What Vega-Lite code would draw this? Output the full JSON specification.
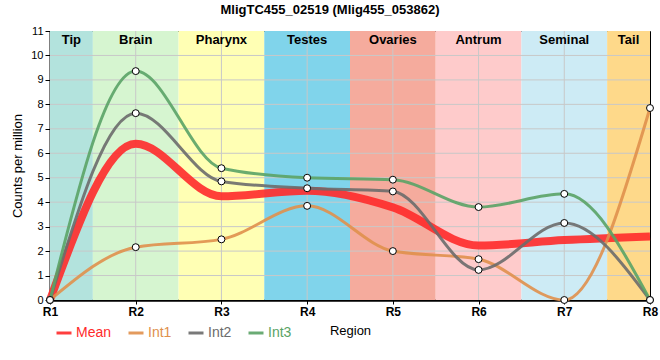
{
  "$schema": "https://vega.github.io/schema/vega-lite/v6.json",
  "width": 600,
  "height": 269,
  "autosize": {"type": "none"},
  "padding": {"left": 50, "top": 31, "right": 10, "bottom": 60},
  "title": {"text": "MligTC455_02519 (Mlig455_053862)", "font": "Liberation Sans", "fontSize": 13, "fontWeight": "bold", "color": "#000000", "anchor": "middle", "dx": -20, "offset": 8},
  "config": {"view": {"stroke": "#000000", "strokeWidth": 1}, "font": "Liberation Sans",
    "axisY": {"labelOverlap": false, "labelFlush": false, "labelBound": false, "grid": false, "titleFontWeight": "normal", "titleFontSize": 13, "titleColor": "#000000", "titlePadding": 6, "labelFontSize": 11, "labelColor": "#000000", "domainColor": "#000000", "domainWidth": 2, "tickColor": "#000000", "tickSize": 5, "labelPadding": 2},
    "axisX": {"labelExpr": "'R' + datum.value", "labelFlush": false, "labelOverlap": false, "grid": false, "titleFontWeight": "normal", "titleFontSize": 13, "titleColor": "#000000", "titlePadding": 7, "labelFontWeight": "bold", "labelFontSize": 12, "labelColor": "#000000", "domainColor": "#000000", "domainWidth": 2.5, "tickColor": "#000000", "tickSize": 4, "labelPadding": 2}},
  "datasets": {
    "bands": [
      {"name": "Tip", "start": 1, "end": 1.5},
      {"name": "Brain", "start": 1.5, "end": 2.5},
      {"name": "Pharynx", "start": 2.5, "end": 3.5},
      {"name": "Testes", "start": 3.5, "end": 4.5},
      {"name": "Ovaries", "start": 4.5, "end": 5.5},
      {"name": "Antrum", "start": 5.5, "end": 6.5},
      {"name": "Seminal", "start": 6.5, "end": 7.5},
      {"name": "Tail", "start": 7.5, "end": 8}
    ],
    "ygrid": [{"v": 1}, {"v": 2}, {"v": 3}, {"v": 4}, {"v": 5}, {"v": 6}, {"v": 7}, {"v": 8}, {"v": 9}, {"v": 10}],
    "xgrid": [{"v": 2}, {"v": 3}, {"v": 4}, {"v": 5}, {"v": 6}, {"v": 7}],
    "series": [
      {"series": "Mean", "x": 1, "value": 0},
      {"series": "Mean", "x": 2, "value": 6.39},
      {"series": "Mean", "x": 3, "value": 4.24},
      {"series": "Mean", "x": 4, "value": 4.47},
      {"series": "Mean", "x": 5, "value": 3.79},
      {"series": "Mean", "x": 6, "value": 2.23},
      {"series": "Mean", "x": 7, "value": 2.45},
      {"series": "Mean", "x": 8, "value": 2.6},
      {"series": "Int1", "x": 1, "value": 0},
      {"series": "Int1", "x": 2, "value": 2.16},
      {"series": "Int1", "x": 3, "value": 2.48},
      {"series": "Int1", "x": 4, "value": 3.85},
      {"series": "Int1", "x": 5, "value": 2.0},
      {"series": "Int1", "x": 6, "value": 1.67},
      {"series": "Int1", "x": 7, "value": 0},
      {"series": "Int1", "x": 8, "value": 7.85},
      {"series": "Int2", "x": 1, "value": 0},
      {"series": "Int2", "x": 2, "value": 7.64},
      {"series": "Int2", "x": 3, "value": 4.85},
      {"series": "Int2", "x": 4, "value": 4.57},
      {"series": "Int2", "x": 5, "value": 4.44},
      {"series": "Int2", "x": 6, "value": 1.23},
      {"series": "Int2", "x": 7, "value": 3.15},
      {"series": "Int2", "x": 8, "value": 0},
      {"series": "Int3", "x": 1, "value": 0},
      {"series": "Int3", "x": 2, "value": 9.36},
      {"series": "Int3", "x": 3, "value": 5.39},
      {"series": "Int3", "x": 4, "value": 5.0},
      {"series": "Int3", "x": 5, "value": 4.92},
      {"series": "Int3", "x": 6, "value": 3.8},
      {"series": "Int3", "x": 7, "value": 4.34},
      {"series": "Int3", "x": 8, "value": 0}
    ]
  },
  "layer": [
    {
      "data": {"name": "bands"},
      "mark": {"type": "rect"},
      "encoding": {
        "x": {"field": "start", "type": "quantitative", "scale": {"domain": [1, 8], "nice": false}, "title": "Region", "axis": {"values": [1, 2, 3, 4, 5, 6, 7, 8]}},
        "x2": {"field": "end"},
        "fill": {"field": "name", "type": "nominal", "scale": {"domain": ["Tip", "Brain", "Pharynx", "Testes", "Ovaries", "Antrum", "Seminal", "Tail"], "range": ["#b3e3dd", "#d6f5d0", "#ffffb4", "#80d4eb", "#f5ab9d", "#fecbcb", "#cdebf5", "#fed98a"]}, "legend": null}
      }
    },
    {
      "data": {"name": "ygrid"},
      "mark": {"type": "rule", "color": "#c8c8c8", "strokeWidth": 1},
      "encoding": {"y": {"field": "v", "type": "quantitative", "scale": {"domain": [0, 11], "nice": false}, "title": "Counts per million", "axis": {"values": [0, 1, 2, 3, 4, 5, 6, 7, 8, 9, 10, 11], "labelOverlap": false}}}
    },
    {
      "data": {"name": "xgrid"},
      "mark": {"type": "rule", "color": "#c8c8c8", "strokeWidth": 1},
      "encoding": {"x": {"field": "v", "type": "quantitative", "title": "Region", "axis": {"values": [1, 2, 3, 4, 5, 6, 7, 8]}}}
    },
    {
      "data": {"name": "series"},
      "mark": {"type": "line", "interpolate": "monotone", "strokeCap": "butt"},
      "encoding": {
        "x": {"field": "x", "type": "quantitative", "title": "Region", "axis": {"values": [1, 2, 3, 4, 5, 6, 7, 8]}},
        "y": {"field": "value", "type": "quantitative", "title": "Counts per million", "axis": {"values": [0, 1, 2, 3, 4, 5, 6, 7, 8, 9, 10, 11], "labelOverlap": false}},
        "color": {"field": "series", "type": "nominal", "sort": ["Mean", "Int1", "Int2", "Int3"], "scale": {"domain": ["Mean", "Int1", "Int2", "Int3"], "range": ["#ff2a2a", "#e0904c", "#6b6b6b", "#5aa366"]},
          "legend": {"orient": "none", "legendX": 5, "legendY": 293, "direction": "horizontal", "title": null, "symbolType": "stroke", "symbolSize": 225, "symbolStrokeWidth": 3, "labelFontSize": 14, "labelFont": "Liberation Sans", "labelColor": {"expr": "scale('color', datum.value)"}, "columnPadding": 10, "labelOffset": 3,
            "encode": {"symbols": {"update": {"strokeWidth": {"signal": "datum.value === 'Mean' ? 7 : 2.5"}}}}}},
        "strokeWidth": {"condition": {"test": "datum.series === 'Mean'", "value": 8}, "value": 3},
        "opacity": {"value": 0.9},
        "order": {"field": "x"}
      }
    },
    {
      "data": {"name": "series"},
      "transform": [{"filter": "datum.series !== 'Mean'"}],
      "mark": {"type": "point", "filled": false, "fill": "#ffffff", "fillOpacity": 1, "stroke": "#000000", "strokeWidth": 1, "size": 48, "opacity": 1},
      "encoding": {
        "x": {"field": "x", "type": "quantitative", "title": "Region", "axis": {"values": [1, 2, 3, 4, 5, 6, 7, 8]}},
        "y": {"field": "value", "type": "quantitative", "title": "Counts per million", "axis": {"values": [0, 1, 2, 3, 4, 5, 6, 7, 8, 9, 10, 11], "labelOverlap": false}}
      }
    },
    {
      "data": {"name": "bands"},
      "transform": [{"calculate": "(datum.start + datum.end) / 2", "as": "mid"}, {"calculate": "11", "as": "top"}],
      "mark": {"type": "text", "fontWeight": "bold", "fontSize": 13, "font": "Liberation Sans", "color": "#000000", "baseline": "middle", "dy": 9},
      "encoding": {
        "x": {"field": "mid", "type": "quantitative", "title": "Region", "axis": {"values": [1, 2, 3, 4, 5, 6, 7, 8]}},
        "y": {"field": "top", "type": "quantitative", "title": "Counts per million", "axis": {"values": [0, 1, 2, 3, 4, 5, 6, 7, 8, 9, 10, 11], "labelOverlap": false}},
        "text": {"field": "name"}
      }
    }
  ]
}
